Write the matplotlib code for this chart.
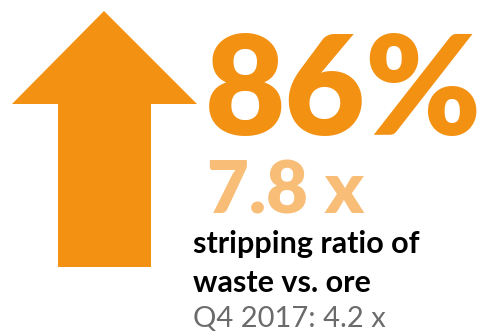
import matplotlib.pyplot as plt
from matplotlib.patches import Polygon

# headline figures
change_pct = 86
ratio_now = 7.8
ratio_prev = 4.2
prev_period = 'Q4 2017'
caption = ['stripping ratio of', 'waste vs. ore']

orange = '#F39113'
light_orange = '#F8BD76'
grey = '#6B6B6B'

fig = plt.figure(figsize=(4.86, 3.32), dpi=100)
ax = fig.add_axes([0, 0, 1, 1])
ax.set_xlim(0, 486)
ax.set_ylim(332, 0)
ax.axis('off')

# big up arrow
arrow = Polygon([(104, 11), (197, 104), (151, 104), (151, 267),
                 (58, 267), (58, 104), (12, 104)],
                closed=True, facecolor=orange, edgecolor='none')
ax.add_patch(arrow)

font = 'Lato'
ax.text(205, 135, f'{change_pct}%', fontsize=100, fontweight='heavy',
        color=orange, family=font, va='baseline')
ax.text(207, 213, f'{ratio_now} x', fontsize=52, fontweight='heavy',
        color=light_orange, family=font, va='baseline')
ax.text(193, 253, caption[0], fontsize=22, fontweight='bold',
        color='black', family=font, va='baseline')
ax.text(193, 292, caption[1], fontsize=22, fontweight='bold',
        color='black', family=font, va='baseline')
ax.text(193, 327, f'{prev_period}: {ratio_prev} x', fontsize=21,
        color=grey, family=font, va='baseline')

fig.savefig('out.png', dpi=100)
